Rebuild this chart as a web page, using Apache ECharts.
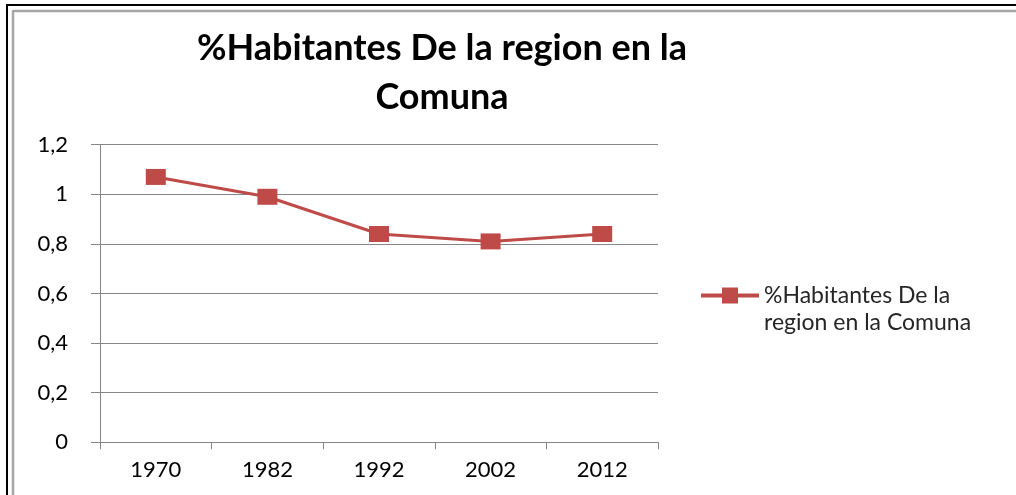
<!DOCTYPE html>
<html>
<head>
<meta charset="utf-8">
<script src="https://cdn.jsdelivr.net/npm/echarts@6/dist/echarts.min.js"></script>
<style>html,body{margin:0;padding:0;background:#fff}#c{width:1016px;height:495px}</style>
</head>
<body>
<div id="c"></div>
<script>
const titleText = '%Habitantes De la region en la\nComuna';
const seriesName = '%Habitantes De la region en la Comuna';
const legendLines = ['%Habitantes De la', 'region en la Comuna'];
const categories = ['1970', '1982', '1992', '2002', '2012'];
const values = [1.07, 0.99, 0.84, 0.81, 0.84];
const yMin = 0, yMax = 1.2, yStep = 0.2;

const FONT = 'Lato';
const chart = echarts.init(document.getElementById('c'), null, {renderer: 'canvas'});
chart.setOption({
  animation: false,
  backgroundColor: '#fff',
  graphic: [
    {type: 'line', shape: {x1: 7, y1: 5, x2: 1016, y2: 5}, style: {stroke: '#000', lineWidth: 2}},
    {type: 'line', shape: {x1: 7, y1: 4, x2: 7, y2: 495}, style: {stroke: '#000', lineWidth: 2}},
    {type: 'line', shape: {x1: 13, y1: 11, x2: 1016, y2: 11}, style: {stroke: '#a6a6a6', lineWidth: 2.5}},
    {type: 'line', shape: {x1: 13, y1: 10, x2: 13, y2: 495}, style: {stroke: '#a6a6a6', lineWidth: 2.5}}
  ],
  title: {
    text: titleText,
    left: 442,
    top: 24,
    padding: 0,
    textAlign: 'center',
    textStyle: {fontFamily: FONT, fontWeight: 'bold', fontSize: 36, lineHeight: 49, color: '#000'}
  },
  legend: {
    left: 699,
    top: 255,
    padding: 0,
    itemWidth: 58,
    itemHeight: 20,
    itemGap: 0,
    data: [seriesName],
    lineStyle: {width: 4},
    formatter: () => '\n' + legendLines.join('\n'),
    textStyle: {fontFamily: FONT, fontSize: 23, lineHeight: 27, color: '#262626'}
  },
  grid: {left: 100, right: 358, top: 144.7, bottom: 52.7, containLabel: false},
  xAxis: {
    type: 'category',
    data: categories,
    boundaryGap: true,
    axisLine: {lineStyle: {color: '#868686', width: 1}},
    axisTick: {show: true, length: 7, lineStyle: {color: '#868686'}},
    axisLabel: {fontFamily: FONT, fontSize: 22, color: '#000', margin: 17}
  },
  yAxis: {
    type: 'value',
    min: yMin, max: yMax, interval: yStep,
    axisLine: {show: true, lineStyle: {color: '#868686', width: 1}},
    axisTick: {show: true, length: 9, lineStyle: {color: '#868686'}},
    splitLine: {lineStyle: {color: '#868686', width: 1}},
    axisLabel: {
      fontFamily: FONT, fontSize: 22, color: '#000', margin: 32,
      formatter: v => String(+v.toFixed(1)).replace('.', ',')
    }
  },
  series: [{
    name: seriesName,
    type: 'line',
    data: values,
    symbol: 'rect',
    symbolSize: [20, 16],
    itemStyle: {color: '#BE4B48'},
    lineStyle: {color: '#BE4B48', width: 3}
  }]
});
</script>
</body>
</html>
